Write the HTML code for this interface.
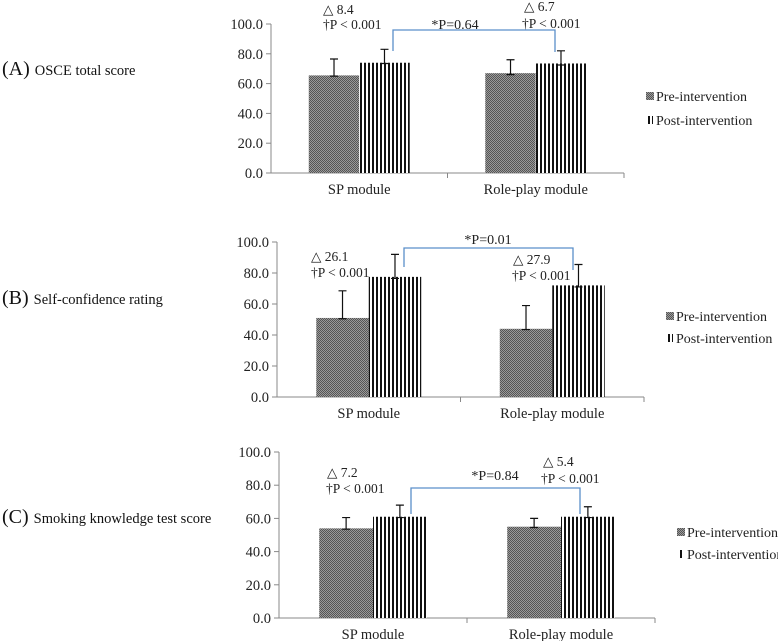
<!DOCTYPE html>
<html><head><meta charset="utf-8"><style>
html,body{margin:0;padding:0;background:#fff;}
svg{display:block;font-family:"Liberation Serif","Times New Roman",serif;}
</style></head><body>
<svg id="c" width="778" height="641" viewBox="0 0 778 641">
<defs>
<pattern id="pre" width="2" height="2" patternUnits="userSpaceOnUse"><rect width="2" height="2" fill="#9a9a9a"/><rect width="1" height="1" fill="#555"/><rect x="1" y="1" width="1" height="1" fill="#555"/></pattern>
<pattern id="post" width="4" height="4" patternUnits="userSpaceOnUse"><rect width="4" height="4" fill="#fff"/><rect width="2" height="4" fill="#111"/></pattern>
</defs>
</svg>
<script>
const categories=["SP module","Role-play module"];
const preA=[65.5,67],postA=[74,73.5],preErrA=[76.5,76],postErrA=[83,82],preLoA=[65,66],postLoA=[73.5,72.5];
const preB=[51,44],postB=[77.5,72],preErrB=[68.5,59],postErrB=[92,85.5],preLoB=[50.5,43.5],postLoB=[76.5,71];
const preC=[54,55],postC=[61,61],preErrC=[60.5,60],postErrC=[68,67],preLoC=[53.5,54.5],postLoC=[60.5,60.5];
const yTicks=["0.0","20.0","40.0","60.0","80.0","100.0"];
const deltaA=["△ 8.4","△ 6.7"],deltaB=["△ 26.1","△ 27.9"],deltaC=["△ 7.2","△ 5.4"];
const pBetween=["*P=0.64","*P=0.01","*P=0.84"];
const panelTitles=["OSCE total score","Self-confidence rating","Smoking knowledge test score"];
const panelLetters=["(A)","(B)","(C)"];

const svg=document.getElementById('c');const NS="http://www.w3.org/2000/svg";
function mk(t,a,p){const e=document.createElementNS(NS,t);for(const k in a)e.setAttribute(k,a[k]);(p||svg).appendChild(e);return e;}
const panels=[
 {x0:271,x1:624,y100:24,y0:173,pre:preA,post:postA,pe:preErrA,qe:postErrA,pl:preLoA,ql:postLoA,delta:deltaA,
  ty:68,leg:[96,120],br:{y:30,l:51,r:52,lx:393,rx:555},bl:29,bc:455,an:[[323,14,323,29],[524,11,522,28]]},
 {x0:277,x1:644,y100:242,y0:397,pre:preB,post:postB,pe:preErrB,qe:postErrB,pl:preLoB,ql:postLoB,delta:deltaB,
  ty:297,leg:[316,338],br:{y:248,l:267,r:270,lx:404,rx:573},bl:244,bc:488,an:[[311,261,311,277],[513,264,512,280]]},
 {x0:279,x1:655,y100:452,y0:618,pre:preC,post:postC,pe:preErrC,qe:postErrC,pl:preLoC,ql:postLoC,delta:deltaC,
  ty:516,leg:[532,554],br:{y:488,l:514,r:514,lx:411,rx:580},bl:480,bc:495,an:[[327,477,326,493],[543,466,541,483]]}
];
panels.forEach((P,i)=>{
 const g=mk('g',{});
 
 
 const W=P.x1-P.x0;
 const y=v=>P.y0-(v/100)*(P.y0-P.y100);
 const cx=k=>P.x0+W*(0.25+0.5*k);
 const bw=W*0.143;
 const t=mk('text',{x:2,y:P.ty+7,'font-size':20,fill:'#111'},g);
 
 
 t.innerHTML=panelLetters[i]+' <tspan font-size="14.5">'+panelTitles[i]+'</tspan>';
 const ax=mk('line',{x1:P.x0,y1:P.y100,x2:P.x0,y2:P.y0,stroke:'#888'},g);
 
 
 const xa=mk('line',{x1:P.x0,y1:P.y0,x2:P.x1,y2:P.y0,stroke:'#888'},g);
 
 
 [P.x0+W/2,P.x1].forEach(tx=>mk('line',{x1:tx,y1:P.y0,x2:tx,y2:P.y0+5,stroke:'#888'},g));
 yTicks.forEach(s=>{const v=parseFloat(s);const yy=y(v);
  mk('line',{x1:P.x0-5,y1:yy,x2:P.x0,y2:yy,stroke:'#888'},g);
  const l=mk('text',{x:P.x0-8,y:yy+5,'font-size':14.5,'text-anchor':'end',fill:'#222'},g);
  
  
  l.textContent=s;});
 categories.forEach((c,k)=>{
  const l=mk('text',{x:cx(k),y:P.y0+21,'font-size':14.5,'text-anchor':'middle',fill:'#222'},g);
  
  
  l.textContent=c;
  const b1=mk('rect',{x:cx(k)-bw,y:y(P.pre[k]),width:bw,height:y(0)-y(P.pre[k]),fill:'url(#pre)'},g);
  
  
  const b2=mk('rect',{x:cx(k),y:y(P.post[k]),width:bw,height:y(0)-y(P.post[k]),fill:'url(#post)'},g);
  
  
  [[cx(k)-bw/2,P.pe[k],P.pl[k]],[cx(k)+bw/2,P.qe[k],P.ql[k]]].forEach(([ex,hi,lo])=>{
   const e=mk('path',{d:`M${ex},${y(lo)}V${y(hi)}M${ex-4},${y(hi)}H${ex+4}M${ex-4},${y(lo)}H${ex+4}`,stroke:'#111','stroke-width':1.2,fill:'none'},g);
   
   
  });
  const a=P.an[k];
  const d=mk('text',{x:a[0],y:a[1],'font-size':13.5,fill:'#222'},g);
  
  
  d.textContent=P.delta[k];
  const p=mk('text',{x:a[2],y:a[3],'font-size':13.5,fill:'#222'},g);
  
  
  p.textContent='†P < 0.001';
 });
 const B=P.br;
 const br=mk('path',{d:`M${B.lx},${B.l}V${B.y}H${B.rx}V${B.r}`,stroke:'#5b8fc9','stroke-width':1.3,fill:'none'},g);
 
 
 const pb=mk('text',{x:P.bc,y:P.bl,'font-size':14,'text-anchor':'middle',fill:'#222'},g);
 
 
 pb.textContent=pBetween[i];
 const lgx=P.x1+22;
 const s1=mk('rect',{x:lgx,y:P.leg[0]-4,width:8,height:8,fill:'url(#pre)'},g);
 
 
 const t1=mk('text',{x:lgx+10,y:P.leg[0]+5,'font-size':14,fill:'#222'},g);
 
 
 t1.textContent='Pre-intervention';
 const s2=mk('rect',{x:lgx+1,y:P.leg[1]-4,width:6,height:8,fill:'url(#post)'},g);
 
 
 const t2=mk('text',{x:lgx+10,y:P.leg[1]+5,'font-size':14,fill:'#222'},g);
 
 
 t2.textContent='Post-intervention';
});
</script>
</body></html>
